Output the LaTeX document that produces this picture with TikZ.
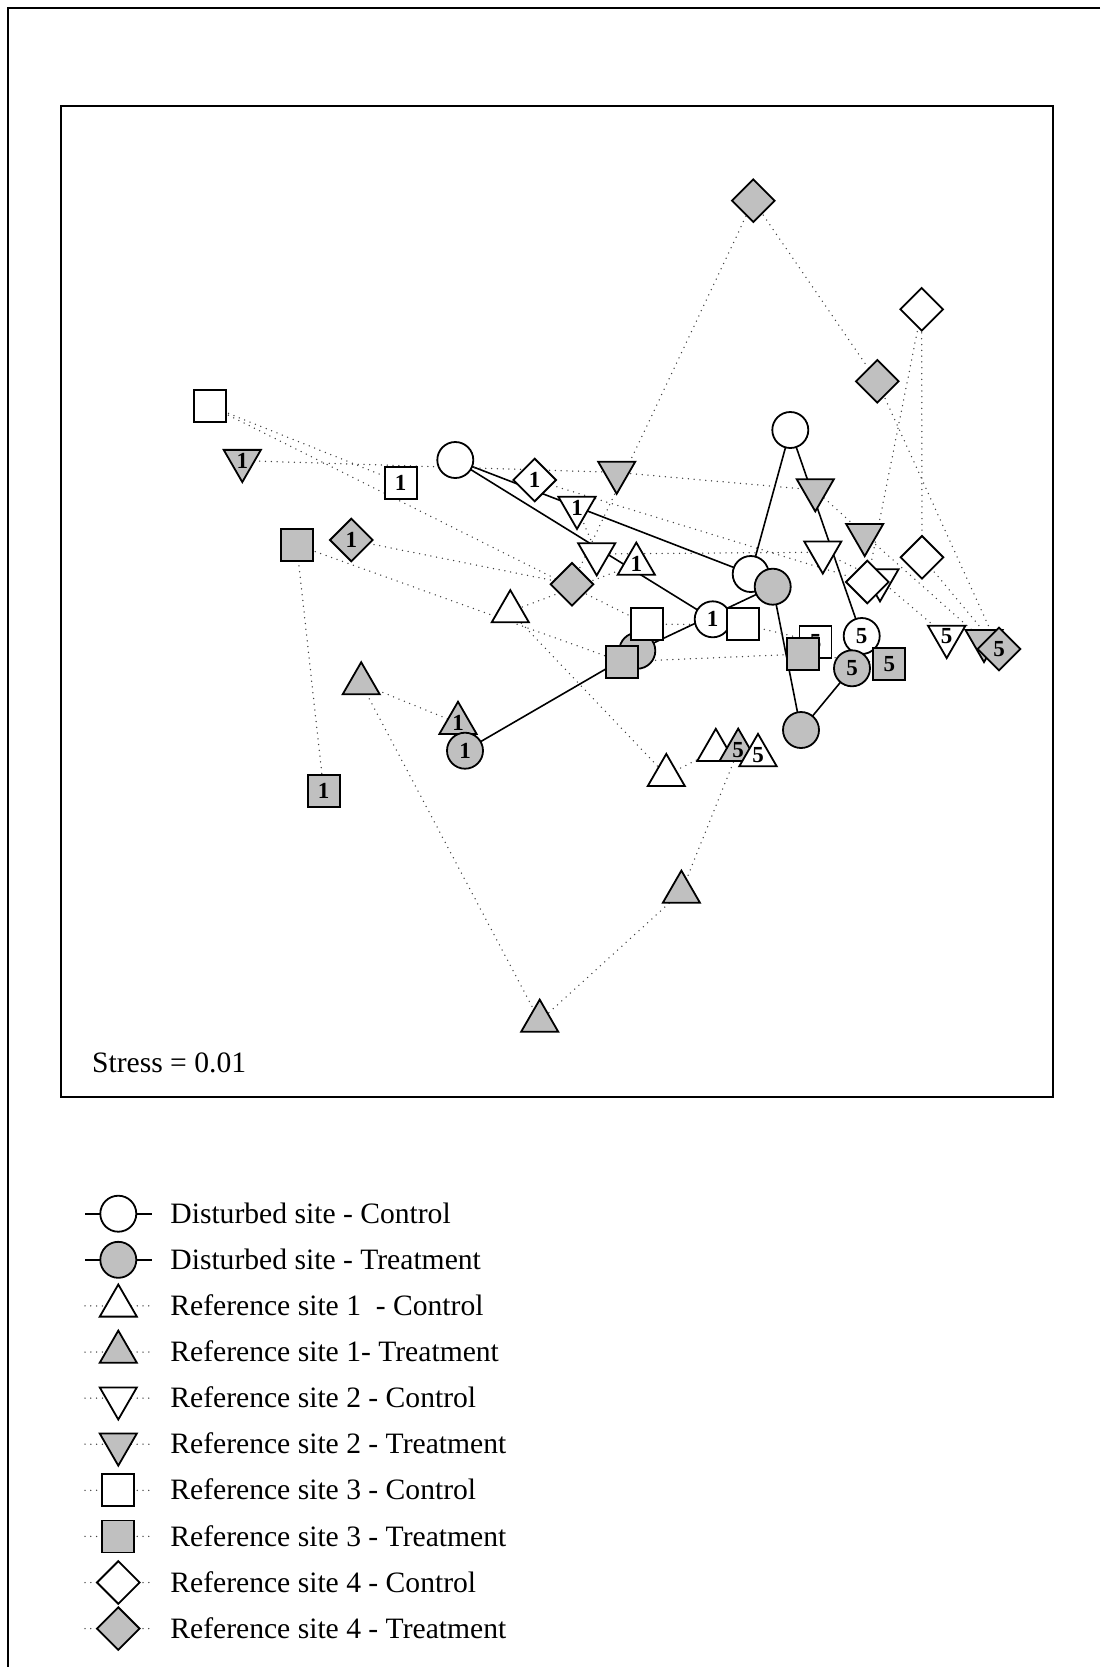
\documentclass[tikz,border=0pt]{standalone}
\usepackage{fontspec}
\setmainfont{Liberation Serif}
\usetikzlibrary{shapes.geometric,backgrounds}
\definecolor{silverg}{HTML}{C0C0C0}
\begin{document}
\begin{tikzpicture}[x=0.5pt,y=-0.5pt,
  base/.style={draw=black, line width=0.9pt, inner sep=0pt, outer sep=0pt, font=\bfseries\fontsize{11.5}{11.5}\selectfont},
  dcirc/.style={base, circle, minimum size=18pt},
  sqr/.style={base, rectangle, minimum size=16pt},
  utri/.style={base, regular polygon, regular polygon sides=3, minimum size=21.4pt},
  dtri/.style={utri, shape border rotate=180},
  dia/.style={base, diamond, aspect=1, minimum size=21.3pt},
  wf/.style={fill=white}, gf/.style={fill=silverg},
  conn/.style={line width=0.8pt, draw=black},
  dots/.style={line width=0.75pt, line cap=round, dash pattern=on 0pt off 2.9pt, draw=black!75},
  legtext/.style={anchor=base west, inner sep=0pt, font=\fontsize{14.8}{17}\selectfont},
]
\useasboundingbox (0,0) rectangle (1100,1667);
% frames
\draw[line width=1pt] (1100,8) -- (8,8) -- (8,1667);
\draw[line width=1pt] (61,106) rectangle (1053,1097);
\node[legtext] (stress) at (91.7,1072.3) {Stress = 0.01};

% ---------- markers (drawing order matters) ----------
% Reference site 2 - Control
\node[dtri,wf] (c1) at (577,507.5) {1};
\node[dtri,wf] (c2) at (596.7,554) {};
\node[dtri,wf] (c3) at (822.8,552.2) {};
\node[dtri,wf] (c4) at (880,580) {};
\node[dtri,wf] (c5) at (946.7,636.5) {5};
% Reference site 2 - Treatment
\node[dtri,gf] (d1) at (242.3,460.6) {1};
\node[dtri,gf] (d2) at (616.7,472.4) {};
\node[dtri,gf] (d3) at (815.3,490) {};
\node[dtri,gf] (d4) at (864.7,534.7) {};
\node[dtri,gf] (d5) at (984,640.7) {};
% Reference site 4 - Control
\node[dia,wf] (g1) at (534.7,480) {1};
\node[dia,wf] (g2) at (867.3,582) {};
\node[dia,wf] (g3) at (921.7,309.3) {};
\node[dia,wf] (g4) at (922,557.3) {};
\coordinate (g5) at (996,646);
% Reference site 4 - Treatment
\node[dia,gf] (h1) at (351.3,540) {1};
\node[dia,gf] (h2) at (572,584.3) {};
\node[dia,gf] (h3) at (753.3,200.7) {};
\node[dia,gf] (h4) at (877.3,381.3) {};
\node[dia,gf] (h5) at (999,649) {5};
% Disturbed site - Control
\node[dcirc,wf] (dc2) at (455.3,460) {};
\node[dcirc,wf] (dc3) at (750.7,574) {};
\node[dcirc,wf] (dc4) at (790.3,430) {};
\node[dcirc,wf] (dc5) at (861.7,636) {5};
\node[dcirc,wf] (dc1) at (712.7,619.3) {1};
% Disturbed site - Treatment
\node[dcirc,gf] (dt2) at (637.3,650.7) {};
\node[dcirc,gf] (dt3) at (772.7,586.7) {};
\node[dcirc,gf] (dt4) at (801,730) {};
\node[dcirc,gf] (dt5) at (852,668.3) {5};
% Reference site 3 - Control
\node[sqr,wf] (e1) at (400.7,482.7) {1};
\node[sqr,wf] (e2) at (210,406) {};
\node[sqr,wf] (e3) at (646.7,624.3) {};
\node[sqr,wf] (e4) at (743.3,624.3) {};
\node[sqr,wf] (e5) at (815.5,641.7) {5};
% Reference site 3 - Treatment
\node[sqr,gf] (f1) at (323.7,790.7) {1};
\node[sqr,gf] (f2) at (296.7,545) {};
\node[sqr,gf] (f3) at (621.7,661.7) {};
\node[sqr,gf] (f4) at (802.7,654) {};
\node[sqr,gf] (f5) at (889.3,664) {5};
% Reference site 1 - Control
\node[utri,wf] (a1) at (636.3,564) {1};
\node[utri,wf] (a2) at (510.3,611.5) {};
\node[utri,wf] (a3) at (666.3,775.3) {};
\node[utri,wf] (a4) at (715.8,750.2) {};
% Reference site 1 - Treatment
\node[utri,gf] (b1) at (458,723.2) {1};
\node[utri,gf] (b2) at (361.2,683.6) {};
\node[utri,gf] (b3) at (539.7,1021) {};
\node[utri,gf] (b4) at (681.4,892) {};
\node[utri,gf] (b5) at (738.2,750.2) {5};
\node[utri,wf] (a5) at (758,755.5) {5};
\node[dcirc,gf] (dt1) at (465,750.7) {1};

% ---------- connectors ----------
\begin{scope}[on background layer]
\draw[conn] (dc1.center) -- (dc2.center) -- (dc3.center) -- (dc4.center) -- (dc5.center);
\draw[conn] (dt1.center) -- (dt2.center) -- (dt3.center) -- (dt4.center) -- (dt5.center);
\draw[dots] (a1.center) -- (a2.center) -- (a3.center) -- (a4.center) -- (a5.center);
\draw[dots] (b1.center) -- (b2.center) -- (b3.center) -- (b4.center) -- (b5.center);
\draw[dots] (c1.center) -- (c2.center) -- (c3.center) -- (c4.center) -- (c5.center);
\draw[dots] (d1.center) -- (d2.center) -- (d3.center) -- (d4.center) -- (d5.center);
\draw[dots] (e1.center) -- (e2.center) -- (e3.center) -- (e4.center) -- (e5.center);
\draw[dots] (f1.center) -- (f2.center) -- (f3.center) -- (f4.center) -- (f5.center);
\draw[dots] (g1.center) -- (g2.center) -- (g3.center) -- (g4.center) -- (g5);
\draw[dots] (h1.center) -- (h2.center) -- (h3.center) -- (h4.center) -- (h5.center);
\end{scope}

% ---------- legend ----------
\foreach \k/\shp/\fil/\txt/\ln in {
  0/dcirc/wf/{Disturbed site - Control}/conn,
  1/dcirc/gf/{Disturbed site - Treatment}/conn,
  2/utri/wf/{Reference site 1~ - Control}/dots,
  3/utri/gf/{Reference site 1- Treatment}/dots,
  4/dtri/wf/{Reference site 2 - Control}/dots,
  5/dtri/gf/{Reference site 2 - Treatment}/dots,
  6/sqr/wf/{Reference site 3 - Control}/dots,
  7/sqr/gf/{Reference site 3 - Treatment}/dots,
  8/dia/wf/{Reference site 4 - Control}/dots,
  9/dia/gf/{Reference site 4 - Treatment}/dots}{
  \pgfmathsetmacro{\yb}{1223.3+46.1*\k}
  \coordinate (lgl\k) at (85,\yb-9.6);
  \coordinate (lgr\k) at (152,\yb-9.6);
  \begin{scope}[on background layer]
    \draw[\ln] (lgl\k) -- (lgr\k);
  \end{scope}
  \node[\shp,\fil] (lgm\k) at (118.3,\yb-9.6) {};
  \node[legtext] (lgt\k) at (170,\yb) {\txt};
}
\end{tikzpicture}
\end{document}
